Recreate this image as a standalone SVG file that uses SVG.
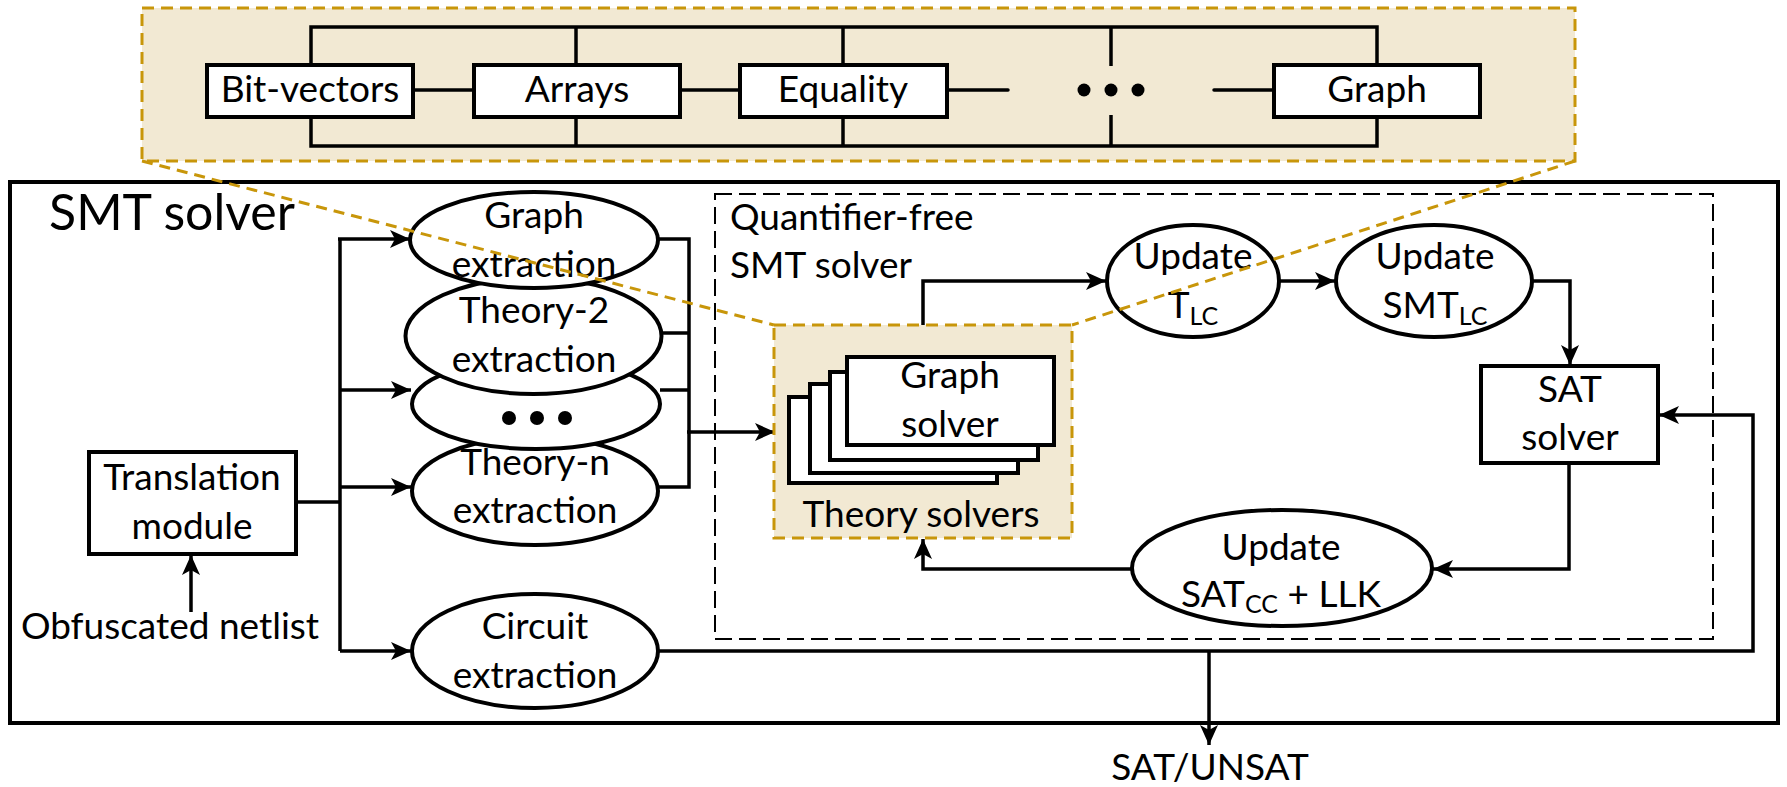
<svg xmlns="http://www.w3.org/2000/svg" width="1787" height="787" viewBox="0 0 1787 787">
<style>
text{font-family:Lato,"Liberation Sans",sans-serif;font-size:37px;fill:#000;text-anchor:middle}
.box{fill:#fff;stroke:#000;stroke-width:4}
.ell{fill:#fff;stroke:#000;stroke-width:4}
.ln{fill:none;stroke:#000;stroke-width:3.5}
.arr{fill:none;stroke:#000;stroke-width:3.5;marker-end:url(#ah)}
.tan{fill:#F2E9D3;stroke:#C8960A;stroke-width:3;stroke-dasharray:12 7}
.tanln{fill:none;stroke:#C8960A;stroke-width:3;stroke-dasharray:11 7}
.sub{font-size:25px}
</style>
<defs>
<marker id="ah" markerUnits="userSpaceOnUse" markerWidth="22" markerHeight="20" refX="20" refY="9" orient="auto">
<path d="M0,0 L20,9 L0,18 L5,9 z" fill="#000"/>
</marker>
</defs>
<rect width="1787" height="787" fill="#fff"/>

<!-- top theory panel -->
<g id="theory-panel">
<rect class="tan" x="142" y="8" width="1433" height="153"/>
<g class="ln">
<polyline points="311,65 311,27 1377,27 1377,65"/>
<polyline points="311,117 311,146 1377,146 1377,117"/>
<line x1="576" y1="27" x2="576" y2="65"/>
<line x1="576" y1="117" x2="576" y2="146"/>
<line x1="843" y1="27" x2="843" y2="65"/>
<line x1="843" y1="117" x2="843" y2="146"/>
<line x1="1111" y1="27" x2="1111" y2="66"/>
<line x1="1111" y1="115" x2="1111" y2="146"/>
<line x1="413" y1="90" x2="474" y2="90"/>
<line x1="680" y1="90" x2="740" y2="90"/>
<line x1="947" y1="90" x2="1008" y2="90" stroke-linecap="round"/>
<line x1="1214" y1="90" x2="1274" y2="90" stroke-linecap="round"/>
</g>
<circle cx="1084" cy="90" r="6.5"/>
<circle cx="1111" cy="90" r="6.5"/>
<circle cx="1138" cy="90" r="6.5"/>
</g>
<g id="bitvectors"><rect class="box" x="207" y="65" width="206" height="52"/><text x="310" y="102">Bit-vectors</text></g>
<g id="arrays"><rect class="box" x="474" y="65" width="206" height="52"/><text x="577" y="102">Arrays</text></g>
<g id="equality"><rect class="box" x="740" y="65" width="207" height="52"/><text x="843" y="102">Equality</text></g>
<g id="graph"><rect class="box" x="1274" y="65" width="206" height="52"/><text x="1377" y="102">Graph</text></g>

<!-- SMT solver container -->
<g id="smt-solver">
<rect x="10" y="182" width="1768" height="541" fill="none" stroke="#000" stroke-width="4"/>
<text x="49" y="230" style="text-anchor:start;font-size:50px">SMT solver</text>
</g>
<g id="qf-smt-solver">
<rect x="715" y="194" width="998" height="445" fill="none" stroke="#000" stroke-width="2" stroke-dasharray="17 7"/>
<text x="730" y="230" style="text-anchor:start">Quantifier-free</text>
<text x="730" y="278" style="text-anchor:start">SMT solver</text>
</g>

<!-- connectors -->
<g id="connectors">
<line class="arr" x1="191" y1="612" x2="191" y2="555"/>
<polyline class="ln" points="296,502 340,502"/>
<line class="ln" x1="340" y1="239" x2="340" y2="651"/>
<polyline class="arr" points="338,239 410,239"/>
<polyline class="arr" points="340,390 411,390"/>
<polyline class="arr" points="340,487 411,487"/>
<polyline class="arr" points="340,651 411,651"/>
<polyline class="ln" points="658,239 689,239 689,487 658,487"/>
<line class="ln" x1="662" y1="333" x2="689" y2="333"/>
<line class="ln" x1="660" y1="390" x2="689" y2="390"/>
<polyline class="arr" points="687,432 775,432"/>
<polyline class="arr" points="923,325 923,281 1106,281"/>
<line class="arr" x1="1279" y1="281" x2="1335" y2="281"/>
<polyline class="arr" points="1533,281 1570,281 1570,365"/>
<polyline class="arr" points="1569,463 1569,569 1433,569"/>
<polyline class="arr" points="1132,569 923,569 923,539"/>
<polyline class="arr" points="658,651 1753,651 1753,415 1659,415"/>
<line class="arr" x1="1209" y1="651" x2="1209" y2="745"/>
</g>

<g id="translation"><rect class="box" x="89" y="452" width="207" height="102"/><text x="192" y="490">Translation</text><text x="192" y="539">module</text></g>
<text id="obfuscated" x="170" y="639">Obfuscated netlist</text>

<g id="theory-n"><ellipse class="ell" cx="535" cy="491" rx="123" ry="54"/><text x="535" y="475">Theory-n</text><text x="535" y="523">extraction</text></g>
<g id="theory-dots"><ellipse class="ell" cx="536" cy="404" rx="124" ry="45"/><circle cx="509" cy="418" r="7"/><circle cx="537" cy="418" r="7"/><circle cx="565" cy="418" r="7"/></g>
<g id="theory-2"><ellipse class="ell" cx="533.5" cy="336" rx="128" ry="58"/><text x="534" y="323">Theory-2</text><text x="534" y="372">extraction</text></g>
<g id="graph-extraction"><ellipse class="ell" cx="534" cy="240" rx="124" ry="48"/><text x="534" y="228">Graph</text><text x="534" y="277">extraction</text></g>
<g id="circuit-extraction"><ellipse class="ell" cx="535" cy="651" rx="123" ry="57"/><text x="535" y="639">Circuit</text><text x="535" y="688">extraction</text></g>

<g id="theory-solvers">
<rect class="tan" x="774" y="325" width="298" height="213"/>
<rect class="box" x="789" y="397" width="208" height="86"/>
<rect class="box" x="810" y="384" width="208" height="89"/>
<rect class="box" x="830" y="372" width="208" height="88"/>
<rect class="box" x="847" y="357" width="207" height="88"/>
<text x="950" y="388">Graph</text><text x="950" y="437">solver</text>
<text x="921" y="527">Theory solvers</text>
</g>

<g id="update-tlc"><ellipse class="ell" cx="1193" cy="281" rx="86" ry="56"/><text x="1193" y="269">Update</text><text x="1193" y="318">T<tspan class="sub" dy="7">LC</tspan></text></g>
<g id="update-smtlc"><ellipse class="ell" cx="1434" cy="281" rx="98" ry="56"/><text x="1435" y="269">Update</text><text x="1435" y="318">SMT<tspan class="sub" dy="7">LC</tspan></text></g>
<g id="sat-solver"><rect class="box" x="1481" y="366" width="177" height="97"/><text x="1570" y="402">SAT</text><text x="1570" y="450">solver</text></g>
<g id="update-satcc"><ellipse class="ell" cx="1282" cy="568" rx="150" ry="58"/><text x="1281" y="560">Update</text><text x="1281" y="607">SAT<tspan class="sub" dy="6">CC</tspan><tspan dy="-6"> + LLK</tspan></text></g>

<text id="sat-unsat" x="1210" y="780">SAT/UNSAT</text>

<g id="zoom-lines">
<line class="tanln" x1="142" y1="161" x2="774" y2="325"/>
<line class="tanln" x1="1575" y1="161" x2="1072" y2="325"/>
</g>
</svg>
